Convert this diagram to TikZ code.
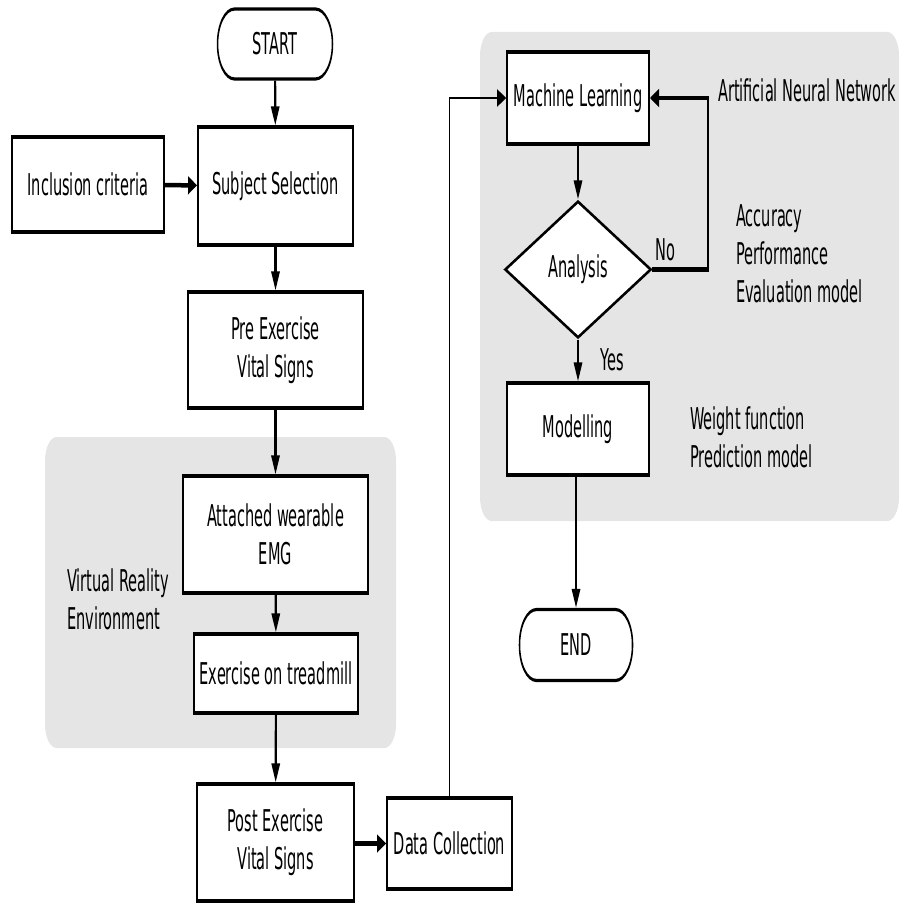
\documentclass[tikz,border=0pt]{standalone}
\usepackage{fontspec}
\setmainfont{DejaVu Sans}
\usetikzlibrary{shapes.geometric,arrows.meta}
\tikzset{
  box/.style={draw, line width=3.2pt, fill=white, inner sep=0pt, align=center},
  term/.style={box, rounded corners=35pt},
  decision/.style={diamond, aspect=2.2, draw, line width=3.2pt, fill=white, inner sep=0pt},
  conn/.style={line width=4.5pt, -{Triangle[length=19pt,width=17pt]}},
  thinconn/.style={line width=2.7pt, -{Triangle[length=19pt,width=17pt]}},
  lbl/.style={inner sep=0pt, align=left, anchor=west},
  panel/.style={fill=black!10, rounded corners=24pt}
}
\begin{document}
\begin{tikzpicture}
\useasboundingbox (0,0) rectangle (903pt,-907pt);
\begin{scope}[transform canvas={xscale=0.485}, x=2.0619pt, y=-1pt,
  font=\fontsize{30}{38}\selectfont]
\fill[panel] (45,437) rectangle (396,748);
\fill[panel] (480,32) rectangle (899,521);

\node[term, minimum width=237pt, minimum height=70pt] (start) at (275,44) {START};
\node[box, minimum width=319.6pt, minimum height=118pt] (sel) at (275.5,186) {Subject Selection};
\node[box, minimum width=313.4pt, minimum height=95pt] (inc) at (88,184.5) {Inclusion criteria};
\node[box, minimum width=360.8pt, minimum height=116pt] (pre) at (275.5,350) {Pre Exercise\\Vital Signs};
\node[box, minimum width=381.4pt, minimum height=117pt] (att) at (275.5,534.5) {Attached wearable\\EMG};
\node[box, minimum width=338.1pt, minimum height=79pt] (tread) at (276,673.5) {Exercise on treadmill};
\node[box, minimum width=323.7pt, minimum height=117pt] (post) at (275.5,842.5) {Post Exercise\\Vital Signs};
\node[box, minimum width=257.7pt, minimum height=91pt] (dc) at (449.5,843.5) {Data Collection};
\node[box, minimum width=292.8pt, minimum height=92pt] (ml) at (578,98) {Machine Learning};
\node[decision, minimum width=301pt, minimum height=137pt] (an) at (578,269.5) {Analysis};
\node[box, minimum width=292.8pt, minimum height=92pt] (mod) at (578,429) {Modelling};
\node[term, minimum width=233pt, minimum height=71pt] (end) at (576,645) {END};

\node[lbl] (ann) at (718,90) {Artificial Neural Network};
\node[lbl] (acc) at (736,254) {Accuracy\\Performance\\Evaluation model};
\node[lbl] (wf) at (690,437) {Weight function\\Prediction model};
\node[lbl] (vr) at (67,599) {Virtual Reality\\Environment};
\node[inner sep=0pt] (no) at (665,250) {No};
\node[inner sep=0pt] (yes) at (612,360) {Yes};

\draw[conn] (start) -- (sel);
\draw[conn] (inc) -- (sel);
\draw[conn] (sel) -- (pre);
\draw[conn] (pre) -- (att);
\draw[conn] (att) -- (tread);
\draw[conn] (tread) -- (post);
\draw[conn] (post.east |- dc.west) -- (dc.west);
\draw[thinconn] (dc.north) |- (ml.west);
\draw[conn] (ml) -- (an);
\draw[conn] (an) -- (mod);
\draw[conn] (mod.south -| end.north) -- (end.north);
\draw[conn] (an.east) -- ++(56,0) |- (ml.east);
\end{scope}
\end{tikzpicture}
\end{document}
